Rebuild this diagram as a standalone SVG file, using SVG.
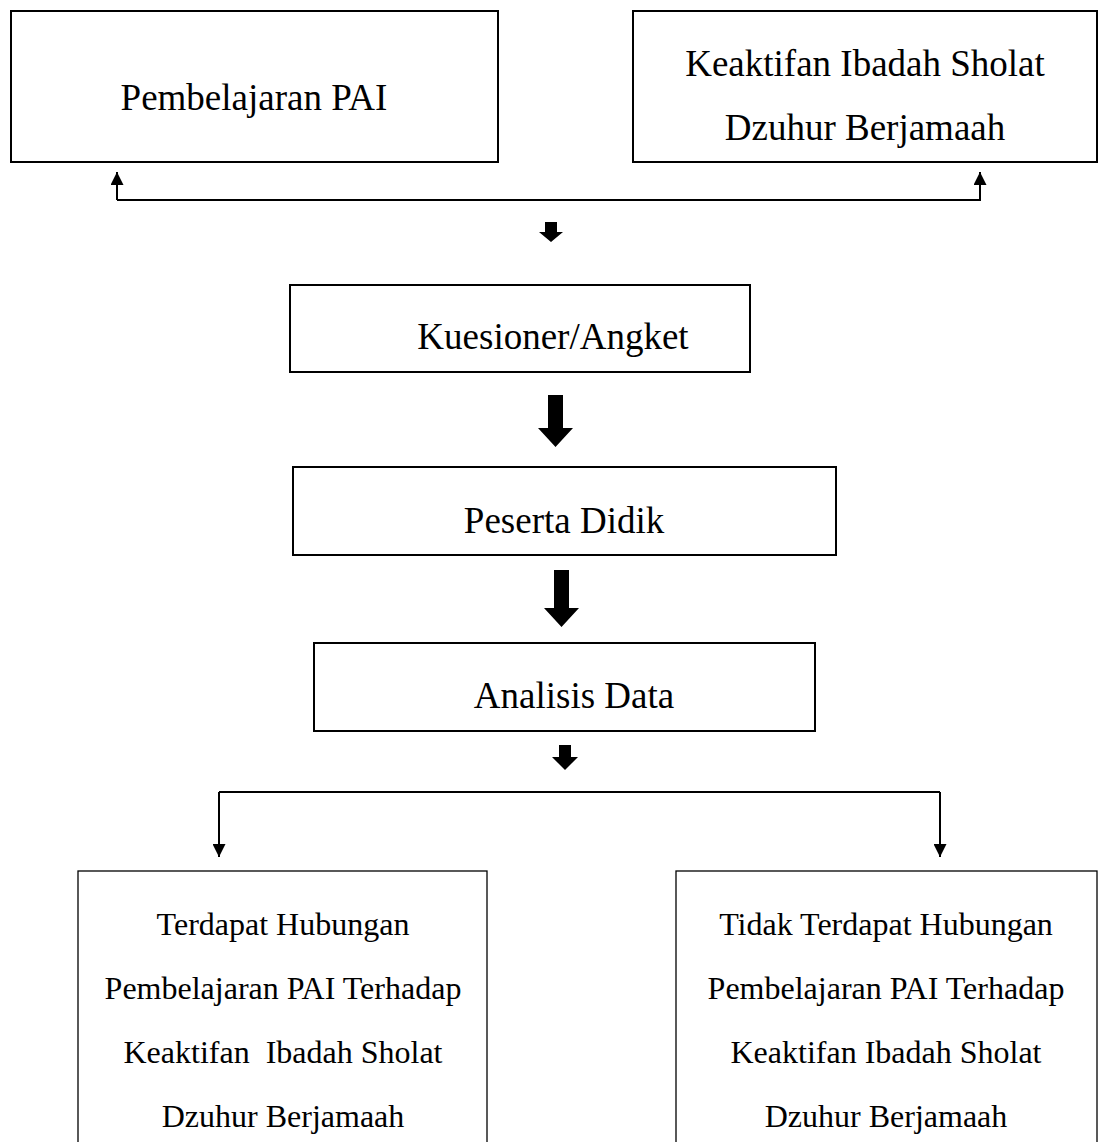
<svg xmlns="http://www.w3.org/2000/svg" width="1108" height="1142" viewBox="0 0 1108 1142">
<defs>
<style>
.box{fill:#fff;stroke:#000;stroke-width:2}
.box2{fill:#fff;stroke:#000;stroke-width:1.3}
.t{font-family:"Liberation Serif","Times New Roman",serif;font-size:37px;fill:#000;text-anchor:middle}
.s{font-family:"Liberation Serif","Times New Roman",serif;font-size:32px;fill:#000;text-anchor:middle}
.ln{fill:none;stroke:#000;stroke-width:2}
.blk{fill:#000}
</style>
<marker id="ah" viewBox="0 0 10 10" refX="10" refY="5" markerWidth="16" markerHeight="13" markerUnits="userSpaceOnUse" orient="auto"><path d="M0,0 L10,5 L0,10 z" fill="#000"/></marker>
</defs>
<rect width="1108" height="1142" fill="#fff"/>
<g id="node-pembelajaran"><rect class="box" x="11" y="11" width="487" height="151"/><text class="t" x="254" y="110">Pembelajaran PAI</text></g>
<g id="node-keaktifan"><rect class="box" x="633" y="11" width="464" height="151"/><text class="t" x="865" y="76">Keaktifan Ibadah Sholat</text><text class="t" x="865" y="140">Dzuhur Berjamaah</text></g>
<g id="node-kuesioner"><rect class="box" x="290" y="285" width="460" height="87"/><text class="t" x="553" y="349">Kuesioner/Angket</text></g>
<g id="node-peserta"><rect class="box" x="293" y="467" width="543" height="88"/><text class="t" x="564" y="533">Peserta Didik</text></g>
<g id="node-analisis"><rect class="box" x="314" y="643" width="501" height="88"/><text class="t" x="574" y="708">Analisis Data</text></g>
<g id="node-terdapat"><rect class="box2" x="78" y="871" width="409" height="290"/><text class="s" x="283" y="935">Terdapat Hubungan</text><text class="s" x="283" y="999">Pembelajaran PAI Terhadap</text><text class="s" x="283" y="1063" xml:space="preserve">Keaktifan  Ibadah Sholat</text><text class="s" x="283" y="1127">Dzuhur Berjamaah</text></g>
<g id="node-tidak"><rect class="box2" x="676" y="871" width="421" height="290"/><text class="s" x="886" y="935">Tidak Terdapat Hubungan</text><text class="s" x="886" y="999">Pembelajaran PAI Terhadap</text><text class="s" x="886" y="1063">Keaktifan Ibadah Sholat</text><text class="s" x="886" y="1127">Dzuhur Berjamaah</text></g>
<g id="connectors">
<path class="ln" d="M117,200 L117,172" marker-end="url(#ah)"/>
<path class="ln" d="M117,200 L980,200 L980,172" marker-end="url(#ah)"/>
<path class="blk" d="M545,222 L557,222 L557,232 L563,232 L551,242 L539,232 L545,232 z"/>
<path class="blk" d="M548,395 L563,395 L563,428 L573,428 L555.5,447 L538,428 L548,428 z"/>
<path class="blk" d="M554,570 L569,570 L569,608 L579,608 L561.5,627 L544,608 L554,608 z"/>
<path class="blk" d="M559,745 L571,745 L571,757 L578,757 L565,770 L552,757 L559,757 z"/>
<path class="ln" d="M219,792 L940,792"/>
<path class="ln" d="M219,792 L219,857" marker-end="url(#ah)"/>
<path class="ln" d="M940,792 L940,857" marker-end="url(#ah)"/>
</g>
</svg>
